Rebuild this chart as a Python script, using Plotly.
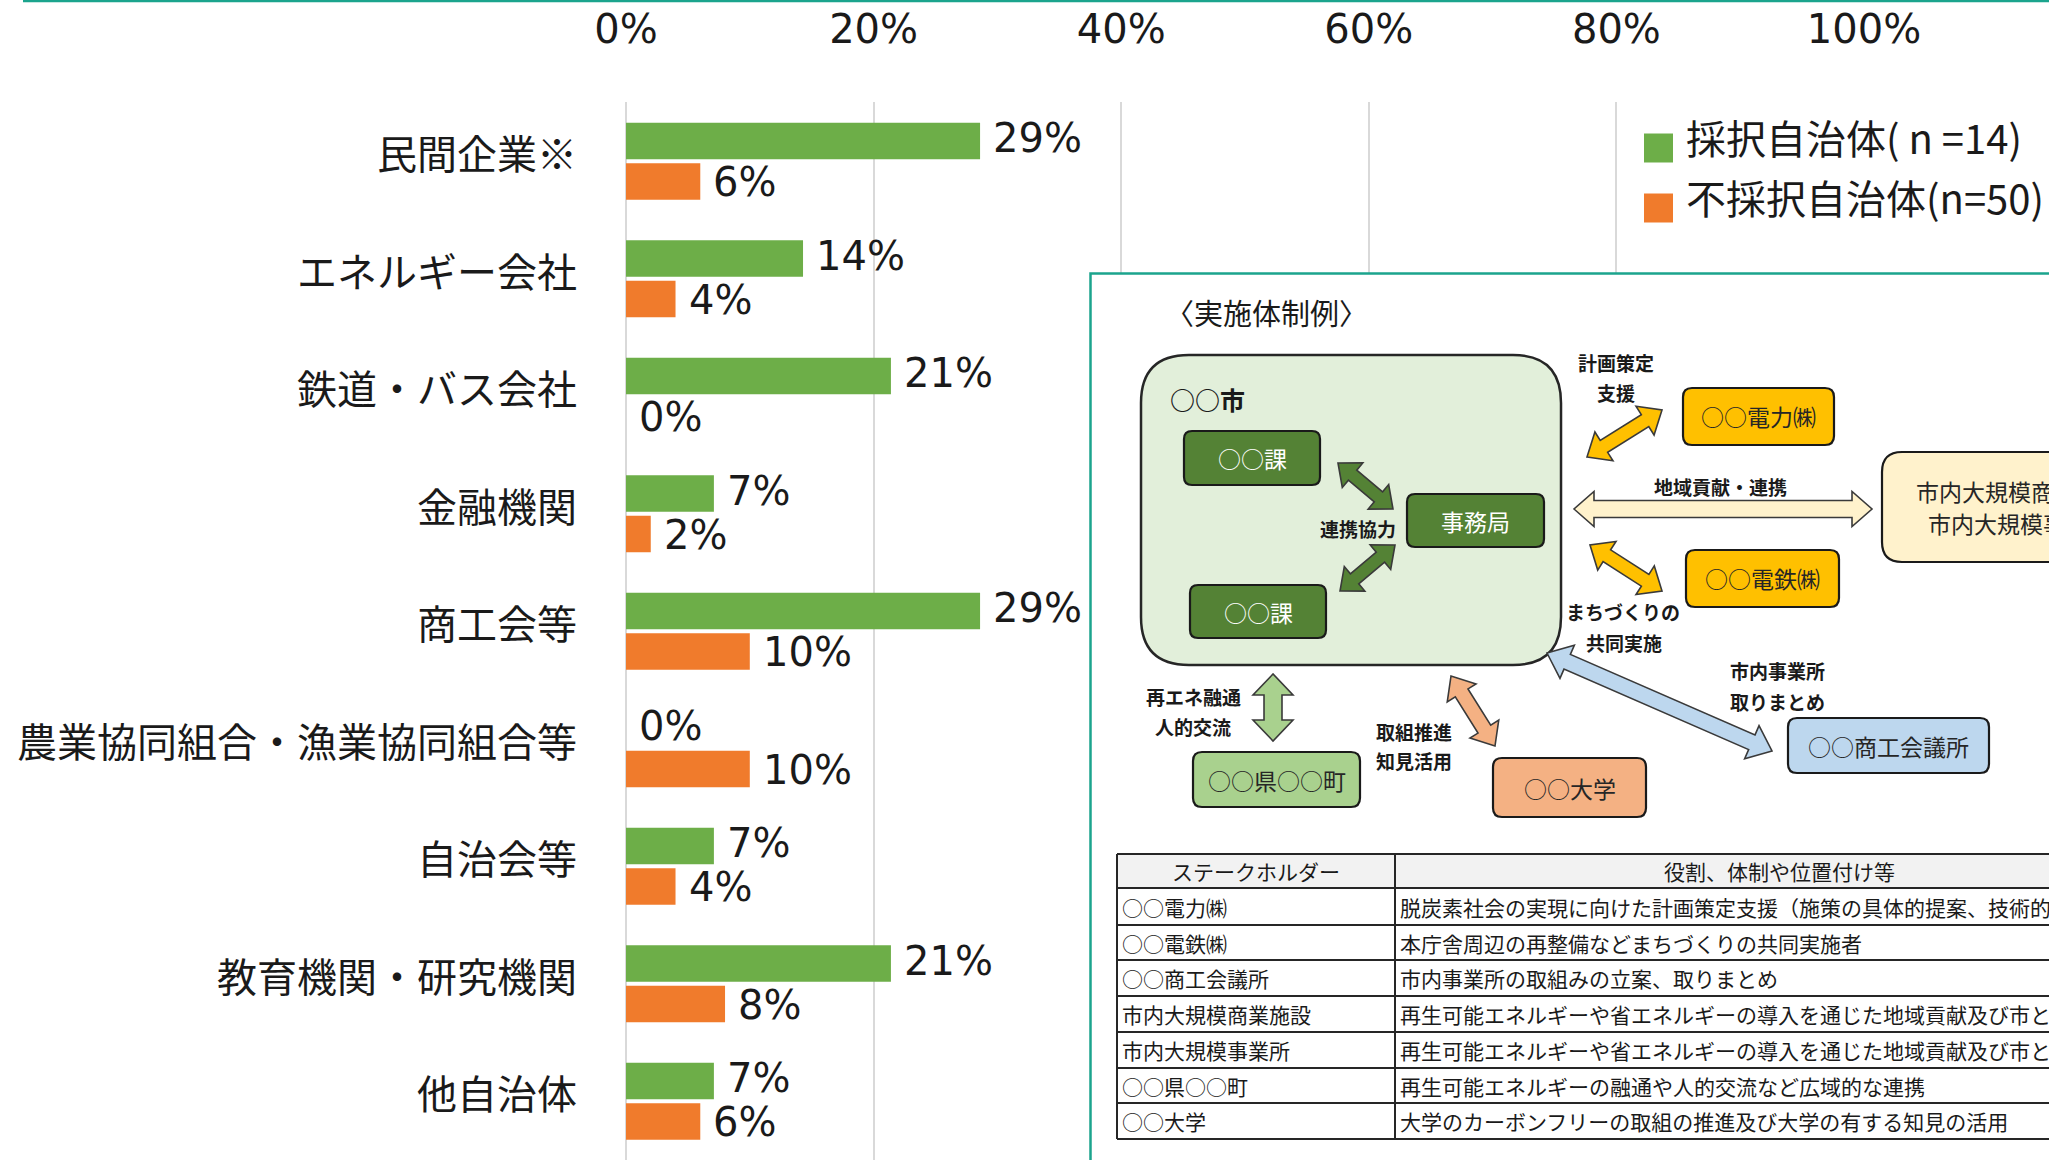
import math
import plotly.graph_objects as go

# ---------------- data ----------------
categories = ["民間企業※", "エネルギー会社", "鉄道・バス会社", "金融機関", "商工会等",
              "農業協同組合・漁業協同組合等", "自治会等", "教育機関・研究機関", "他自治体"]
adopted = [28.6, 14.3, 21.4, 7.1, 28.6, 0, 7.1, 21.4, 7.1]
not_adopted = [6, 4, 0, 2, 10, 10, 4, 8, 6]
series_names = ["採択自治体( n =14)", "不採択自治体(n=50)"]
tick_vals = [0, 20, 40, 60, 80, 100]
tick_text = ["0%", "20%", "40%", "60%", "80%", "100%"]

panel_title = "〈実施体制例〉"
table_header = ["ステークホルダー", "役割、体制や位置付け等"]
stakeholders = ["○○電力㈱", "○○電鉄㈱", "○○商工会議所", "市内大規模商業施設",
                "市内大規模事業所", "○○県○○町", "○○大学"]
roles = ["脱炭素社会の実現に向けた計画策定支援（施策の具体的提案、技術的助言等）",
         "本庁舎周辺の再整備などまちづくりの共同実施者",
         "市内事業所の取組みの立案、取りまとめ",
         "再生可能エネルギーや省エネルギーの導入を通じた地域貢献及び市との連携",
         "再生可能エネルギーや省エネルギーの導入を通じた地域貢献及び市との連携",
         "再生可能エネルギーの融通や人的交流など広域的な連携",
         "大学のカーボンフリーの取組の推進及び大学の有する知見の活用"]

# ---------------- styling ----------------
W, H = 2049, 1160
GREEN = "#6DAE48"
ORANGE = "#F07B2C"
TEAL = "#1BA48D"
TXT = "#1a1a1a"
JP = "Noto Sans CJK JP"
NUM = "DejaVu Sans, Noto Sans CJK JP"


def X(px):
    return px / W


def Y(py):
    return 1 - py / H


def P(x, y):
    return f"{X(x):.5f},{Y(y):.5f}"


def rrect_path(x0, y0, x1, y1, r):
    return (f"M{P(x0 + r, y0)} L{P(x1 - r, y0)} Q{P(x1, y0)} {P(x1, y0 + r)} "
            f"L{P(x1, y1 - r)} Q{P(x1, y1)} {P(x1 - r, y1)} "
            f"L{P(x0 + r, y1)} Q{P(x0, y1)} {P(x0, y1 - r)} "
            f"L{P(x0, y0 + r)} Q{P(x0, y0)} {P(x0 + r, y0)} Z")


def darrow_path(p1, p2, sw, hw, hl):
    dx, dy = p2[0] - p1[0], p2[1] - p1[1]
    L = math.hypot(dx, dy)
    ux, uy = dx / L, dy / L
    nx, ny = -uy, ux

    def pt(base, along, side):
        return (base[0] + ux * along + nx * side, base[1] + uy * along + ny * side)

    pts = [p1,
           pt(p1, hl, hw / 2), pt(p1, hl, sw / 2),
           pt(p2, -hl, sw / 2), pt(p2, -hl, hw / 2),
           p2,
           pt(p2, -hl, -hw / 2), pt(p2, -hl, -sw / 2),
           pt(p1, hl, -sw / 2), pt(p1, hl, -hw / 2)]
    return "M" + " L".join(P(*q) for q in pts) + " Z"


fig = go.Figure()
fig.add_trace(go.Bar(y=categories, x=adopted, orientation="h", name=series_names[0],
                     marker=dict(color=GREEN, line=dict(width=0)), showlegend=False))
fig.add_trace(go.Bar(y=categories, x=not_adopted, orientation="h", name=series_names[1],
                     marker=dict(color=ORANGE, line=dict(width=0)), showlegend=False))

shapes = []
annotations = []

# data labels
for c, v in zip(categories, adopted):
    annotations.append(dict(x=v, y=c, xref="x", yref="y", text=f"{round(v)}%", showarrow=False,
                            xanchor="left", yanchor="middle", xshift=11, yshift=23,
                            font=dict(family=NUM, size=40, color=TXT)))
for c, v in zip(categories, not_adopted):
    annotations.append(dict(x=v, y=c, xref="x", yref="y", text=f"{round(v)}%", showarrow=False,
                            xanchor="left", yanchor="middle", xshift=11, yshift=-21,
                            font=dict(family=NUM, size=40, color=TXT)))

# legend (manual)
for i, (name, col) in enumerate(zip(series_names, [GREEN, ORANGE])):
    yc = 148 + i * 60
    shapes.append(dict(type="rect", xref="paper", yref="paper", x0=X(1644), x1=X(1673),
                       y0=Y(yc - 14.5), y1=Y(yc + 14.5), fillcolor=col, line=dict(width=0)))
    annotations.append(dict(x=X(1684), y=Y(yc - 11), xref="paper", yref="paper", text=name,
                            showarrow=False, xanchor="left", yanchor="middle",
                            font=dict(family=JP, size=40, color=TXT)))

# top teal line
shapes.append(dict(type="rect", xref="paper", yref="paper", x0=X(23), x1=X(2060),
                   y0=Y(0), y1=Y(2.2), fillcolor=TEAL, line=dict(width=0)))

# panel
shapes.append(dict(type="rect", xref="paper", yref="paper", x0=X(1090.5), x1=X(2100),
                   y0=Y(273.5), y1=Y(1200), fillcolor="white", line=dict(color=TEAL, width=2.5)))

annotations.append(dict(x=X(1163), y=Y(312), xref="paper", yref="paper", text=panel_title,
                        showarrow=False, xanchor="left", yanchor="middle",
                        font=dict(family=JP, size=29, color=TXT)))

# big city box
shapes.append(dict(type="path", xref="paper", yref="paper",
                   path=rrect_path(1141, 355, 1561, 665, 48),
                   fillcolor="#E2EFDA", line=dict(color="#262626", width=2.5)))
annotations.append(dict(x=X(1168), y=Y(399), xref="paper", yref="paper", text="<b>○○市</b>",
                        showarrow=False, xanchor="left", yanchor="middle",
                        font=dict(family=JP, size=25, color=TXT)))

# arrows
arrows = [
    ((1338, 463), (1393, 509), 13, 32, 19, "#548235"),
    ((1340, 591), (1395, 545), 13, 32, 19, "#548235"),
    ((1587, 457), (1662, 410), 14, 34, 20, "#FFC000"),
    ((1590, 545), (1662, 591), 14, 34, 20, "#FFC000"),
    ((1574, 509), (1872, 509), 17, 35, 20, "#FFF2CC"),
    ((1547, 653), (1772, 751), 16, 36, 22, "#BDD7EE"),
    ((1273, 674), (1273, 741), 18, 40, 21, "#A9D18E"),
    ((1451, 676), (1495, 746), 15, 34, 20, "#F4B183"),
]
for p1, p2, sw, hw, hl, col in arrows:
    shapes.append(dict(type="path", xref="paper", yref="paper",
                       path=darrow_path(p1, p2, sw, hw, hl),
                       fillcolor=col, line=dict(color="#3a3a3a", width=1.6)))

# boxes
boxes = [
    (1184, 431, 1320, 485, "#548235", ["○○課"], "white", 8),
    (1407, 494, 1544, 547, "#548235", ["事務局"], "white", 8),
    (1190, 585, 1326, 638, "#548235", ["○○課"], "white", 8),
    (1683, 388, 1834, 445, "#FFC000", ["○○電力㈱"], "#262626", 9),
    (1686, 550, 1839, 607, "#FFC000", ["○○電鉄㈱"], "#262626", 9),
    (1882, 452, 2157, 562, "#FFF2CC", ["市内大規模商業施設", "市内大規模事業所"], "#262626", 20),
    (1788, 718, 1989, 773, "#BDD7EE", ["○○商工会議所"], "#262626", 9),
    (1193, 752, 1360, 807, "#A9D18E", ["○○県○○町"], "#262626", 9),
    (1493, 758, 1646, 817, "#F4B183", ["○○大学"], "#262626", 9),
]
for x0, y0, x1, y1, col, lines, tcol, r in boxes:
    shapes.append(dict(type="path", xref="paper", yref="paper",
                       path=rrect_path(x0, y0, x1, y1, r),
                       fillcolor=col, line=dict(color="#1a1a1a", width=2.2)))
    cx = (x0 + x1) / 2
    cy = (y0 + y1) / 2
    n = len(lines)
    for k, t in enumerate(lines):
        yy = cy + (k - (n - 1) / 2) * 31
        annotations.append(dict(x=X(cx), y=Y(yy), xref="paper", yref="paper", text=t,
                                showarrow=False, xanchor="center", yanchor="middle",
                                font=dict(family=JP, size=23, color=tcol)))

# bold arrow labels
arrow_labels = [
    ("連携協力", 1358, 528), ("計画策定", 1616, 362), ("支援", 1616, 392),
    ("地域貢献・連携", 1720, 486), ("まちづくりの", 1623, 611), ("共同実施", 1624, 642),
    ("市内事業所", 1777, 670), ("取りまとめ", 1777, 701), ("再エネ融通", 1193, 696),
    ("人的交流", 1193, 726), ("取組推進", 1414, 731), ("知見活用", 1414, 760),
]
for t, x, y in arrow_labels:
    annotations.append(dict(x=X(x), y=Y(y), xref="paper", yref="paper", text=f"<b>{t}</b>",
                            showarrow=False, xanchor="center", yanchor="middle",
                            font=dict(family=JP, size=19, color=TXT)))

# table
tx0, tcol, txr = 1117, 1395, 2200
row_y = [854, 888, 925, 960, 996, 1032, 1068, 1103, 1139]
shapes.append(dict(type="rect", xref="paper", yref="paper", x0=X(tx0), x1=X(txr),
                   y0=Y(row_y[0]), y1=Y(row_y[1]), fillcolor="#F2F2F2", line=dict(width=0)))
for yy in row_y:
    shapes.append(dict(type="line", xref="paper", yref="paper", x0=X(tx0), x1=X(txr),
                       y0=Y(yy), y1=Y(yy), line=dict(color="#262626", width=2)))
for xx in [tx0, tcol]:
    shapes.append(dict(type="line", xref="paper", yref="paper", x0=X(xx), x1=X(xx),
                       y0=Y(row_y[0]), y1=Y(row_y[-1]), line=dict(color="#262626", width=2)))
annotations.append(dict(x=X((tx0 + tcol) / 2), y=Y((row_y[0] + row_y[1]) / 2), xref="paper",
                        yref="paper", text=table_header[0], showarrow=False, xanchor="center",
                        yanchor="middle", font=dict(family=JP, size=21, color=TXT)))
annotations.append(dict(x=X(1779), y=Y((row_y[0] + row_y[1]) / 2), xref="paper",
                        yref="paper", text=table_header[1], showarrow=False, xanchor="center",
                        yanchor="middle", font=dict(family=JP, size=21, color=TXT)))
for i, (s, r) in enumerate(zip(stakeholders, roles)):
    yc = (row_y[i + 1] + row_y[i + 2]) / 2
    annotations.append(dict(x=X(tx0 + 3), y=Y(yc), xref="paper", yref="paper", text=s,
                            showarrow=False, xanchor="left", yanchor="middle",
                            font=dict(family=JP, size=21, color=TXT)))
    annotations.append(dict(x=X(tcol + 3), y=Y(yc), xref="paper", yref="paper", text=r,
                            showarrow=False, xanchor="left", yanchor="middle",
                            font=dict(family=JP, size=21, color=TXT)))

fig.update_layout(
    width=W, height=H,
    margin=dict(l=0, r=0, t=0, b=0),
    paper_bgcolor="white", plot_bgcolor="white",
    barmode="group", bargap=0.31, bargroupgap=0.1,
    shapes=shapes, annotations=annotations,
    xaxis=dict(domain=[X(626), X(1864)], range=[0, 100], side="top",
               tickvals=tick_vals, ticktext=tick_text, ticks="", ticklabelstandoff=50,
               showgrid=True, gridcolor="#D9D9D9", gridwidth=1.5,
               zeroline=True, zerolinecolor="#D9D9D9", zerolinewidth=1.5,
               showline=False, automargin=False, fixedrange=True,
               tickfont=dict(family=NUM, size=40, color=TXT)),
    yaxis=dict(domain=[0, Y(102.4)], autorange="reversed", type="category",
               ticks="", ticklabelstandoff=48, ticklabelshift=6, showgrid=False, zeroline=False,
               showline=False, automargin=False, fixedrange=True,
               tickfont=dict(family=JP, size=40, color=TXT)),
)

fig.write_html("out.html", config={"displayModeBar": False},
               post_script="document.body.style.margin='0';document.body.style.overflow='hidden';")
